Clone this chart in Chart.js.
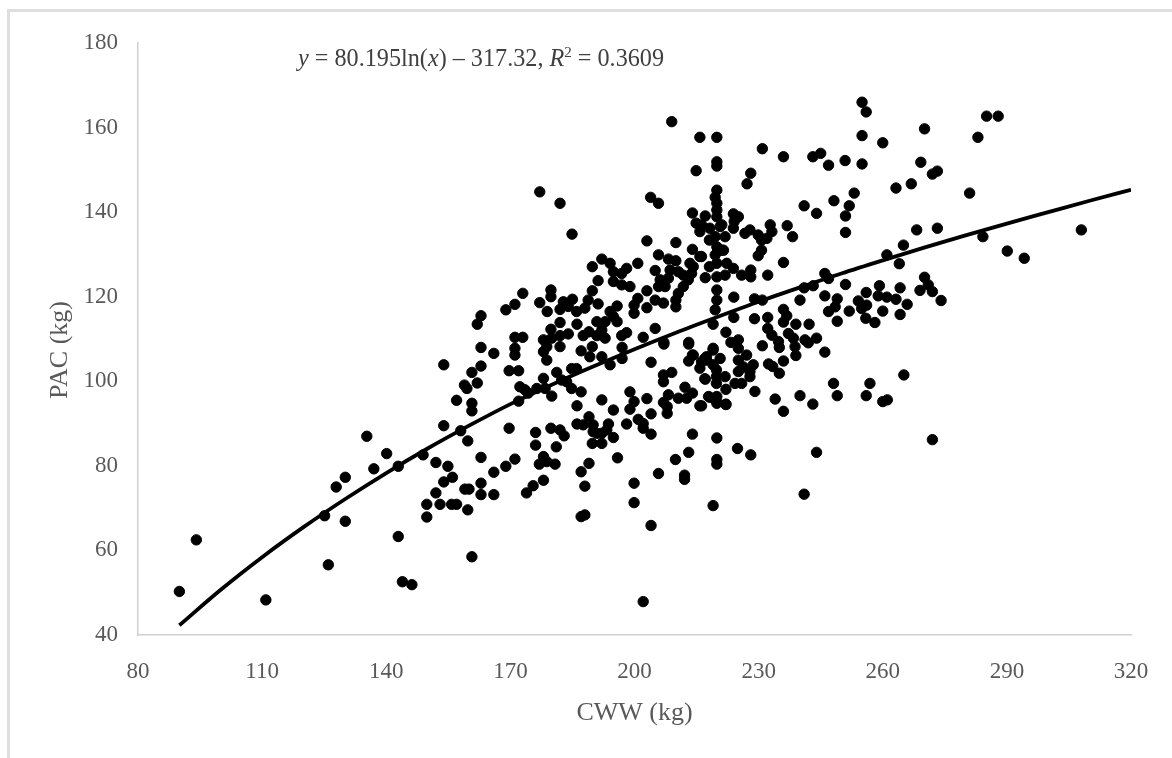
<!DOCTYPE html>
<html><head><meta charset="utf-8">
<style>
html,body{margin:0;padding:0;background:#fff;}
#wrap{position:relative;width:1172px;height:758px;overflow:hidden;}
#frame{position:absolute;left:7px;top:9px;width:1200px;height:800px;border:3px solid #dedede;box-sizing:border-box;}
canvas{position:absolute;left:0;top:0;}
#eq{position:absolute;left:298px;top:44px;font:24.2px "Liberation Serif",serif;color:#404040;white-space:nowrap;}
#eq sup{font-size:15px;line-height:0;}
</style>
<script src="https://cdn.jsdelivr.net/npm/chart.js@4/dist/chart.umd.min.js"></script>
</head><body>
<div id="wrap"><div id="frame"></div><canvas id="c" width="1172" height="758"></canvas>
<div id="eq"><i>y</i> = 80.195ln(<i>x</i>) – 317.32, <i>R</i><sup>2</sup> = 0.3609</div></div>
<script>
const xTitle = 'CWW (kg)';
const yTitle = 'PAC (kg)';
const xTicks = [80,110,140,170,200,230,260,290,320];
const yTicks = [40,60,80,100,120,140,160,180];
const trendX = [90,100,110,120,130,140,150,160,170,180,190,200,210,220,230,240,250,260,270,280,290,300,310,320];
const trendY = [42.3,50.7,58.4,65.5,72.1,78.3,84.1,89.5,94.6,99.2,103.5,107.6,111.5,115.2,118.8,122.2,125.5,128.6,131.6,134.5,137.3,140,142.7,145.3];
const pointPairs = `90,50.3 94.1,62.5 110.9,48.3 126,56.6 125.1,68.2 130.1,66.9 127.9,75 130.1,77.3 135.3,87 137,79.3 140.1,82.9 142.9,79.9 142.9,63.3 143.9,52.6 146.2,51.9 148.9,82.6 152,80.8 154.9,79.9 156,77.3 153.9,76.2 152,73.6 149.8,70.9 149.8,67.9 153,70.9 155.8,70.9 157,70.9 159,74.5 160,74.5 159.7,69.6 160.7,58.5 153.9,103.9 158.9,99.1 159.5,98.3 157,95.5 160.7,102.1 160.7,94.8 160.7,93 153.9,89.5 158,88.3 159.7,85.9
162.9,108 166,106.6 171.1,107.8 171.1,106.2 162.9,103.6 169.7,102.5 172,102.5 162,99.6 172,95.3 172.3,98.7 173.5,98 174.3,97.2 176.4,98.3 178.4,98.3 178,100.7 180,96.5 181.2,102.1 182.4,100.3 183.6,99.9 184.8,103 186,103 184.8,98.3 187.1,97.5 186.1,94.2 192.1,95.6 194.9,93.2 198.9,97.5 199.9,95.2 198.9,93.4 203,95.9 204,92.3 198.1,89.9 200.9,91 202.1,90 202.1,88.9 204,87.5 186.1,89.9 187.6,89.7 189,91.6 190,89.7 190,88.1 193.7,89.9 193.3,88.5 192.1,87.7 190.9,87.7 194.9,86.7 189.8,85.3 192.1,85.3 195.9,81.9 189,80.6 187.1,78.6 188,75.2 187.1,68 188,68.4 199.9,75.9 199.9,71.3 204,65.9 202.1,47.9 205.8,78.2 209.9,81.5 213.1,83.2 212.1,77.8 212.1,76.8 214,87.5 219.9,86.6 219.9,81.5 219.9,80.4 219,70.6
162.9,82 162.9,75.9 162.9,73.2 166,78.5 166,73.2 168.9,79.9 171.1,81.6 169.7,88.9 176.1,87.9 176.1,84.9 179.8,88.9 182,88.5 183,87.1 181.1,84.5 178,82.2 177,80.4 178.8,81 180.8,80.4 178,76.6 175.5,75.3 173.9,73.6
207.1,108.8 213.1,108.8 204,104.5 214,106.2 213.1,104.8 207,101.5 207,99.9 209,102.1 216.2,104.6 217.4,105 219,107.4 220.7,105.4 215.8,103.1 219,103.9 219.8,102.7 219.8,101.1 219.8,99.5 217.1,100.5 221.9,101.1 222.1,98.1 212.2,98.6 214,97.2 212.6,96 210.6,96 208.2,96.8 207,95 207.9,94 207.9,92.4 215.8,94.2 218.2,96.2 219.9,96.4 219.9,94.8 222.1,94.6
209,161.4 215.8,157.7 219.9,157.7 219.9,151.9 219.9,150.9 214.9,149.8 219.9,145.2 219.5,143.5 219.9,142.1 219.9,140.5 219.9,138.9 214,139.8 217.1,139.1 214.9,137.4 215.8,135.4 218.2,136.2 221.1,137 219.5,134.2 221.9,134.2 218.1,133.4 219.9,131.8 221.1,131 219.5,129.9 218.1,127.1 219.9,127.9 222.3,127.9 221.9,125.1 219.9,124.7 217.1,124.5 219.9,121.6 219.9,119.2 219.5,116.9 219,113.5
177.1,144.8 182,142.1 184.9,134.8 203.9,143.5 205.8,142.1 203,133.2 210,132.8 214,131.2 205.8,129.9 215.8,129.5 208.2,128.9 210,128.5 213.4,127.9 214.2,127.1 205,126.2 208.6,126.3 210.6,125.9 211.8,125.1 213.8,125.5 206.2,124 208.2,124.4 207.4,122.4 205.8,122.4 213,124 211.8,122.4 210.6,120.8 210,119.2 210,117.6 203,121.4 200.8,119.6 199.9,118 199.9,116.1 203,117.4 205,119.2 207,118.5 200.8,127.9 189.8,127.1 192.1,128.9 194.1,127.9 194.9,125.9 196.9,125.5 198.1,126.7 191.2,123.8 194.9,123.6 196.9,122.8 198.9,122.4 189.8,121.4 188.8,119.2 191.2,118.3 195.8,117.8 179.8,121.6 179.8,120 173,120.8 171.1,118.2 168.9,116.9 177.1,118.6 178.9,116.5 185,119.4 182.8,118.8 182,117 184,117.7 186,116.5 188,117.3 162.9,115.5 162,113.5 182,113.9 186.1,113.5 194.1,116.5 190.9,114.1 192.9,114.1 194.9,115.3 195.8,114.1 179.8,112.3 189,111.7 187.6,110.8 190.9,110.8 192.1,112.1 192.9,110.2 198.1,111.5 196.9,110.8 202.1,110.4 205,112.5 184,111.2 182,110.8 178,109.8 180,110.2 178.8,108.2 182,108.2 178,107 171.1,110.4 173,110.4 187.1,107.2 189.8,108.2 189.2,105.8 192.1,105.8 197,108 207.1,109.2 213.1,109.2 222.1,111.6 214.2,106.2 217.4,105.8 219,107.8 178.8,105 194.1,103.9 197,105.4
230.9,155 236,153.1 243.1,153.1 245,153.9 246.9,151.1 250.9,152.2 255,151.4 255,166 256,163.7 255,158.1 260,156.4 270.1,159.7 283,157.7 285.1,162.7 287.9,162.7 228.1,149.2 227.2,146.7 269.2,151.8 272,149 273.2,149.7 263.2,145.7 266.9,146.7 281,144.5 253.1,144.5 251.9,141.5 251,139.1 248.2,142.7 241,141.5 244,139.7 251,135.2 223.9,139.6 225.1,138.9 224.1,137.8 223.9,136.2 220.7,136.6 221.5,131 216.2,137 216.2,129.5 223.9,126.7 225.9,125.1 228.1,126.3 228.1,124.7 232.2,125.1 226.7,135 227.9,135.8 229.9,134.6 232.8,137 233.2,135.4 232,133.8 230.7,133.4 230.7,131 229.9,129.7 236.9,136.8 238.2,134.2 236,128.1 246,125.5 246.9,124.3 243.2,122.6 241,122.1 251,122.9 261,129.9 265,132.2 264,127.8 268.2,135.8 273.2,136.2 284.2,134.2 290.1,130.8 294.2,129.1 308,135.8 259.2,122.6 264.2,122.1 256,121 270.1,124.6 271,122.8 272,121.2 269,121.5 274.1,119.1 265.9,118.2 264.2,115.8 263.2,119.4 261,119.9 258.9,120.2 254.1,119 256.1,118 254.9,117.2 255.9,114.9 258.1,113.9 260,116.6 240,119.2 246,120.2 249,119.5 248.5,117.6 246.9,116.5 249,114.2 251.9,116.6 229,119.5 230.9,119.2 224,119.9 224,115.1 229,114.8 232.2,115.1 236,117 236.8,115.5 236,114 239,113.5 242.2,113.5 232.2,112.5 233.2,110.9 234.8,109.4 235,108 237.2,111.3 238.4,110.2 238.8,108.2 239,106.1 241.2,109.8 242,109.1 244,110.2 230.9,108.4 246,106.9 223.3,109.2 225.1,109.8 217,105.4 225.1,107.8 227.1,106.2 225.1,105 228.7,103.9 225.1,102.3 227.9,101.1 225.9,99.5 229.1,97.6 226.3,103.4 227.9,102.3 224.3,99.5 232.4,104.1 233.4,103.5 235,101.9 236,104.8 217,100.6 217.9,96.4 219.9,95.2 222.1,94.5 216.2,94.2 234,95.8 240,96.6 243.1,94.6 236,92.9 248.1,99.5 249,96.6 256.9,99.5 256,96.6 260,95.2 261.1,95.6 265.1,101.5 224.9,84.1 228.1,82.6 244,83.2 272,86.2 241,73.3`;
const points = pointPairs.trim().split(/\s+/).map(s => { const [x,y] = s.split(',').map(Number); return {x,y}; });
const trend = trendX.map((x,i)=>({x,y:trendY[i]}));
const tickColor = '#595959';
const serif = '"Liberation Serif", serif';
const yTitlePlugin = {
  id:'yTitleText',
  afterDraw(chart){
    const c = chart.ctx;
    c.save();
    c.translate(60,350);
    c.rotate(-Math.PI/2);
    c.font = '26px "Liberation Serif", serif';
    c.fillStyle = tickColor;
    c.textAlign = 'center';
    c.textBaseline = 'middle';
    c.fillText(yTitle,0,0);
    c.restore();
  }
};
new Chart(document.getElementById('c'), {
  type:'scatter',
  plugins:[yTitlePlugin],
  data:{datasets:[
    {label:'CWW vs PAC',data:points,pointRadius:5.2,pointHoverRadius:5.2,backgroundColor:'#000',borderColor:'#000',showLine:false,order:2},
    {label:'Trend',data:trend,showLine:true,pointRadius:0,borderColor:'#000',borderWidth:3.8,cubicInterpolationMode:'monotone',fill:false,order:1}
  ]},
  options:{
    responsive:false,animation:false,
    layout:{padding:{top:43,right:41,left:0,bottom:0}},
    plugins:{legend:{display:false},tooltip:{enabled:false}},
    scales:{
      x:{type:'linear',min:80,max:320,
        afterBuildTicks(s){s.ticks=xTicks.map(v=>({value:v}));},
        afterFit(s){s.height=123;},
        grid:{display:false,drawTicks:false},border:{color:'#d0d0d0',width:1.5},
        ticks:{color:tickColor,font:{family:serif,size:23},padding:23,maxRotation:0},
        title:{display:true,text:xTitle,color:tickColor,font:{family:serif,size:26},padding:{top:12,bottom:29}}},
      y:{type:'linear',min:40,max:180,
        afterBuildTicks(s){s.ticks=yTicks.map(v=>({value:v}));},
        afterFit(s){s.width=138;},
        grid:{display:false,drawTicks:false},border:{color:'#d0d0d0',width:1.5},
        ticks:{color:tickColor,font:{family:serif,size:23},padding:20},
        title:{display:false}}
    }
  }
});
</script></body></html>
